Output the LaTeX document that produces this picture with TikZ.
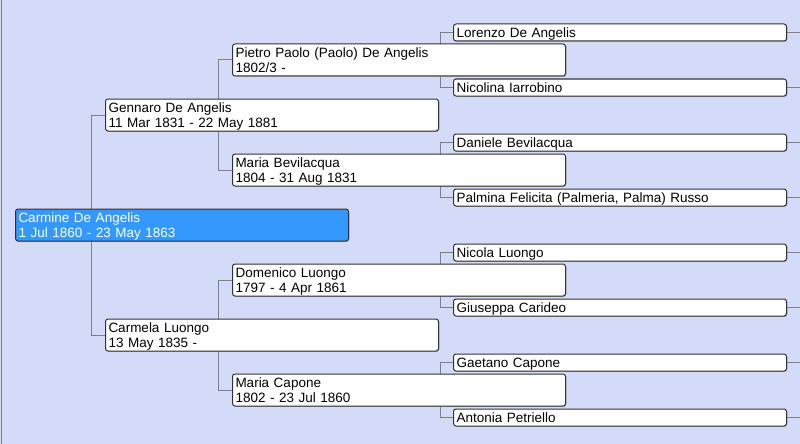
\documentclass[tikz,border=0pt]{standalone}
\usepackage{fontspec}
\setmainfont{Liberation Sans}
\usetikzlibrary{shadows}
\pgfdeclarelayer{bgl}
\pgfdeclarelayer{linesl}
\pgfsetlayers{bgl,linesl,main}
\definecolor{bgc}{RGB}{212,219,248}
\definecolor{linec}{RGB}{128,128,128}
\definecolor{selc}{RGB}{51,153,255}
\definecolor{edgec}{RGB}{50,50,50}
\newcommand\ps{\rule[-3pt]{0pt}{15.5pt}}
\tikzset{
  person/.style={draw=edgec, line width=1pt, fill=white, rounded corners=2.5pt,
    anchor=north west, inner xsep=3pt, inner ysep=0pt, text width=327pt,
    align=left, font=\fontsize{13.5}{15.5}\selectfont,
    drop shadow={shadow xshift=0.8pt, shadow yshift=-0.8pt, fill=black!40, opacity=0.8}},
  tall/.style={person, minimum height=32pt},
  short/.style={person, minimum height=17pt},
  sel/.style={fill=selc, text=white},
  conn/.style={draw=linec, line width=1pt}
}
\begin{document}
\begin{tikzpicture}[x=1pt, y=-1pt]
\begin{pgfonlayer}{bgl}
\fill[bgc] (0,0) rectangle (800,443);
\draw[linec, line width=1pt] (1,0) -- (1,443);
\end{pgfonlayer}
\useasboundingbox (0,0) rectangle (800,443);
% boxes
\node[tall, sel] (carmine) at (15,208) {\ps Carmine De Angelis\\\ps 1 Jul 1860 - 23 May 1863};
\node[tall] (gennaro) at (105,98) {\ps Gennaro De Angelis\\\ps 11 Mar 1831 - 22 May 1881};
\node[tall] (carmela) at (105,318) {\ps Carmela Luongo\\\ps 13 May 1835 -};
\node[tall] (pietro) at (232,43) {\ps Pietro Paolo (Paolo) De Angelis\\\ps 1802/3 -};
\node[tall] (mariab) at (232,153) {\ps Maria Bevilacqua\\\ps 1804 - 31 Aug 1831};
\node[tall] (domenico) at (232,263) {\ps Domenico Luongo\\\ps 1797 - 4 Apr 1861};
\node[tall] (mariac) at (232,373) {\ps Maria Capone\\\ps 1802 - 23 Jul 1860};
\node[short] (lorenzo) at (453,23) {\ps Lorenzo De Angelis};
\node[short] (nicolina) at (453,78) {\ps Nicolina Iarrobino};
\node[short] (daniele) at (453,133) {\ps Daniele Bevilacqua};
\node[short] (palmina) at (453,188) {\ps Palmina Felicita (Palmeria, Palma) Russo};
\node[short] (nicola) at (453,243) {\ps Nicola Luongo};
\node[short] (giuseppa) at (453,298) {\ps Giuseppa Carideo};
\node[short] (gaetano) at (453,353) {\ps Gaetano Capone};
\node[short] (antonia) at (453,408) {\ps Antonia Petriello};
% connectors (behind boxes)
\begin{pgfonlayer}{linesl}
\draw[conn] (gennaro.west) -- ++(-14,0) |- (carmela.west);
\draw[conn] (pietro.west) -- ++(-14,0) |- (mariab.west);
\draw[conn] (domenico.west) -- ++(-14,0) |- (mariac.west);
\draw[conn] (lorenzo.west) -- ++(-13,0) |- (nicolina.west);
\draw[conn] (daniele.west) -- ++(-13,0) |- (palmina.west);
\draw[conn] (nicola.west) -- ++(-13,0) |- (giuseppa.west);
\draw[conn] (gaetano.west) -- ++(-13,0) |- (antonia.west);
\foreach \n in {lorenzo,nicolina,daniele,palmina,nicola,giuseppa,gaetano,antonia}
  \draw[conn] (\n.east) -- ++(14,0);
\end{pgfonlayer}
\end{tikzpicture}
\end{document}
